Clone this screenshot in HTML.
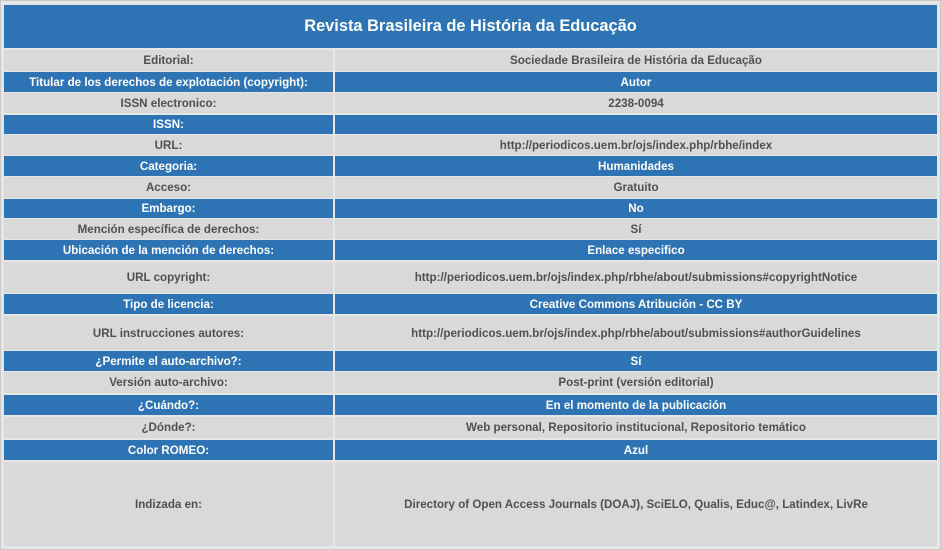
<!DOCTYPE html>
<html><head><meta charset="utf-8"><style>
body{margin:0;width:941px;height:550px;background:#fff;font-family:"Liberation Sans",Arial,sans-serif;overflow:hidden}
#wrap{position:absolute;left:0;top:0;width:939px;height:548px;border:1px solid #c8c8c8;background:#e6e6e6}
.c{position:absolute;display:flex;align-items:center;justify-content:center;font-size:11.6px;font-weight:bold;color:#505050;background:#d9d9d9;text-align:center}
.b{background:#2e74b5;color:#fff}
#title{position:absolute;left:3px;top:4px;width:933px;height:43px;background:#2e74b5;color:#fff;font-size:16.4px;font-weight:bold;display:flex;align-items:center;justify-content:center}
</style></head><body>
<div id="wrap">
<div id="title">Revista Brasileira de História da Educação</div>
</div>
<script>
const rows=[
["Editorial:","Sociedade Brasileira de História da Educação",49,70,0],
["Titular de los derechos de explotación (copyright):","Autor",71,91,1],
["ISSN electronico:","2238-0094",92,112,0],
["ISSN:","",114,133,1],
["URL:","http://periodicos.uem.br/ojs/index.php/rbhe/index",134,154,0],
["Categoria:","Humanidades",155,175,1],
["Acceso:","Gratuito",176,197,0],
["Embargo:","No",198,217,1],
["Mención específica de derechos:","Sí",218,238,0],
["Ubicación de la mención de derechos:","Enlace especifico",239,259,1],
["URL copyright:","http://periodicos.uem.br/ojs/index.php/rbhe/about/submissions#copyrightNotice",261,292,0],
["Tipo de licencia:","Creative Commons Atribución - CC BY",293,313,1],
["URL instrucciones autores:","http://periodicos.uem.br/ojs/index.php/rbhe/about/submissions#authorGuidelines",315,349,0],
["¿Permite el auto-archivo?:","Sí",350,370,1],
["Versión auto-archivo:","Post-print (versión editorial)",371,392,0],
["¿Cuándo?:","En el momento de la publicación",394,414,1],
["¿Dónde?:","Web personal, Repositorio institucional, Repositorio temático",416,437,0],
["Color ROMEO:","Azul",439,459,1],
["Indizada en:","Directory of Open Access Journals (DOAJ), SciELO, Qualis, Educ@, Latindex, LivRe",461,545,0]
];
const w=document.getElementById('wrap');
rows.forEach(r=>{
  const slug=r[0].toLowerCase().normalize('NFD').replace(/[^a-z ]/g,'').trim().replace(/ +/g,'-');
  const a=document.createElement('div');
  a.className='c'+(r[4]?' b':'');
  a.style.cssText=`left:3px;top:${r[2]}px;width:329px;height:${r[3]-r[2]}px`;
  a.textContent=r[0];
  
  
  w.appendChild(a);
  const v=document.createElement('div');
  v.className='c'+(r[4]?' b':'');
  v.style.cssText=`left:334px;top:${r[2]}px;width:602px;height:${r[3]-r[2]}px`;
  v.textContent=r[1];
  
  
  w.appendChild(v);
});
</script>
</body></html>
